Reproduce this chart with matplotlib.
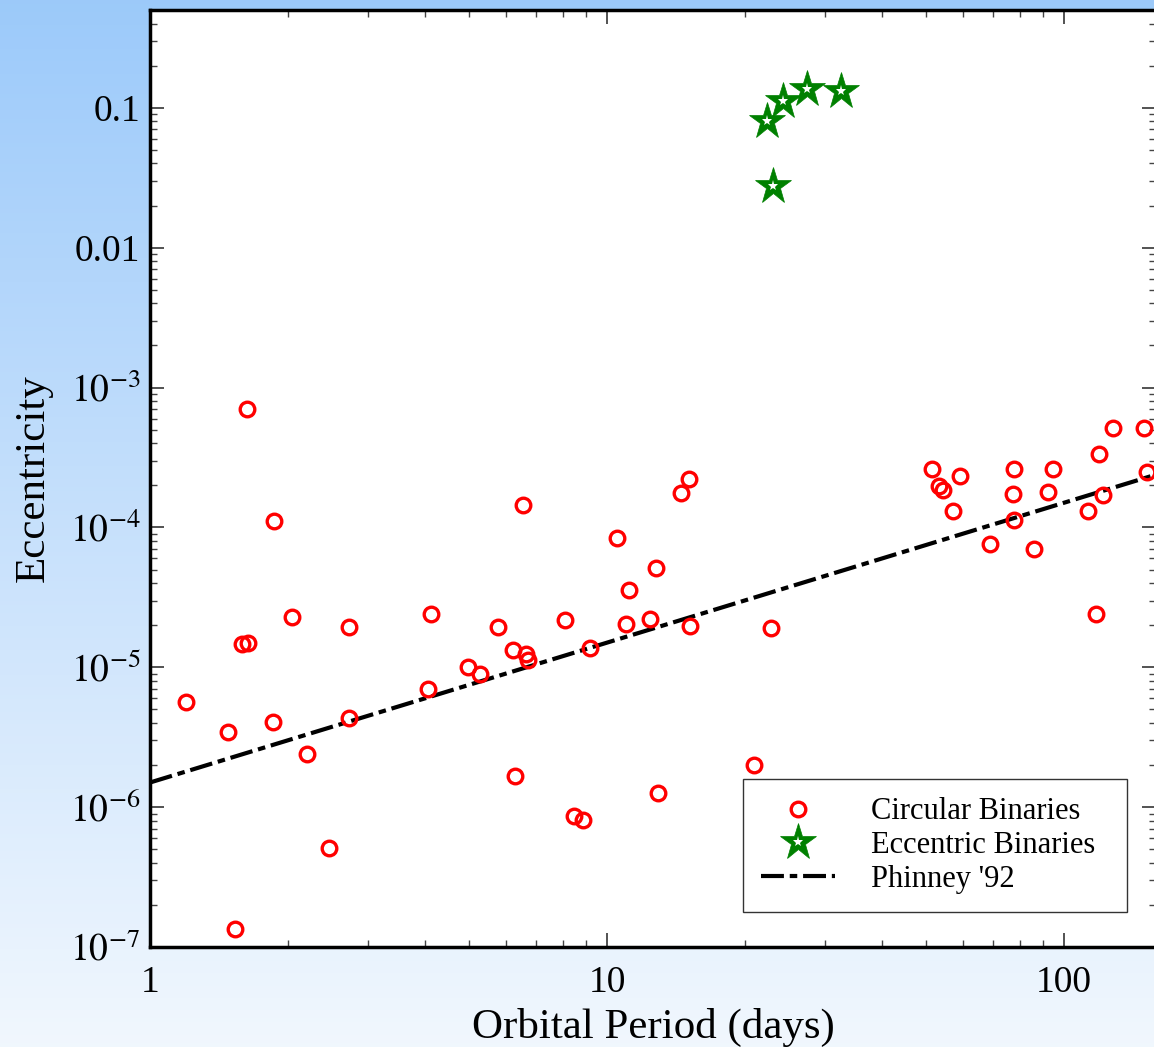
import matplotlib
matplotlib.use("Agg")
import matplotlib.pyplot as plt
import numpy as np
from matplotlib.ticker import FixedLocator, FuncFormatter, LogLocator, NullFormatter

plt.rcParams['font.family'] = ['Liberation Serif', 'DejaVu Serif']
plt.rcParams['mathtext.fontset'] = 'stix'

# circular binaries: orbital period (days), eccentricity
circ_p = [1.20, 1.48, 1.535, 1.59, 1.64, 1.63, 1.87, 2.04, 2.73, 4.11,
          6.56, 5.78, 6.24, 6.66, 6.73, 4.97, 5.28, 8.11, 1.86, 2.21,
          2.47, 2.73, 4.06, 6.30, 8.49, 8.84, 9.20, 10.5, 11.2, 11.0,
          12.45, 12.8, 12.96, 14.5, 15.1, 15.2, 21.0, 22.9, 51.4, 53.4,
          54.4, 59.3, 57.1, 68.9, 77.6, 77.5, 77.8, 86.1, 94.6, 92.3,
          112.7, 117.5, 119.5, 121.6, 128.2, 149.7, 151.7]
circ_e = [5.66e-6, 3.45e-6, 1.35e-7, 1.47e-5, 1.50e-5, 7.0e-4, 1.11e-4, 2.28e-5, 1.95e-5, 2.41e-5,
          1.44e-4, 1.95e-5, 1.33e-5, 1.25e-5, 1.12e-5, 1.01e-5, 8.97e-6, 2.18e-5, 4.07e-6, 2.40e-6,
          5.1e-7, 4.35e-6, 7.0e-6, 1.67e-6, 8.65e-7, 8.1e-7, 1.38e-5, 8.43e-5, 3.58e-5, 2.04e-5,
          2.22e-5, 5.14e-5, 1.26e-6, 1.77e-4, 2.23e-4, 1.98e-5, 2.0e-6, 1.91e-5, 2.61e-4, 1.98e-4,
          1.84e-4, 2.34e-4, 1.31e-4, 7.64e-5, 2.61e-4, 1.72e-4, 1.13e-4, 7.03e-5, 2.60e-4, 1.80e-4,
          1.30e-4, 2.42e-5, 3.36e-4, 1.71e-4, 5.13e-4, 5.13e-4, 2.51e-4]

# eccentric binaries
ecc_p = [22.4, 24.3, 27.4, 32.5, 23.1]
ecc_e = [0.081, 0.111, 0.137, 0.131, 0.0275]

# Phinney '92 relation end points
phin_p = [1.0, 160.0]
phin_e = [1.5e-6, 2.4e-4]

fig = plt.figure(figsize=(11.54, 10.47), dpi=100)

# gradient background
bg = fig.add_axes([0, 0, 1, 1], zorder=0)
top = np.array([0.612, 0.792, 0.980])
bot = np.array([0.945, 0.969, 0.996])
t = np.linspace(0, 1, 256)[:, None]
grad = top[None, :] * (1 - t) + bot[None, :] * t
bg.imshow(grad[:, None, :].repeat(4, axis=1), aspect='auto', extent=[0, 1, 0, 1])
bg.axis('off')

ax = fig.add_axes([0.13, 0.0955, 0.8717, 0.8949], zorder=1)
ax.set_xscale('log')
ax.set_yscale('log')

ln, = ax.plot(phin_p, phin_e, color='black', lw=3, dashes=(5.5, 1.4, 1.8, 1.4), zorder=2)
circ, = ax.plot(circ_p, circ_e, 'o', ms=10.5, mfc='none', mec='red', mew=2.4, zorder=3)
star_out, = ax.plot(ecc_p, ecc_e, '*', ms=28, color='green', mec='green', mew=0.5, zorder=4)
star_in, = ax.plot(ecc_p, ecc_e, '*', ms=8, color='white', mec='white', mew=0, zorder=5)

ax.set_xlim(1, 159)
ax.set_ylim(1e-7, 0.5)

ax.xaxis.set_major_locator(FixedLocator([1, 10, 100]))
ax.xaxis.set_major_formatter(FuncFormatter(lambda v, p: '%d' % v))
ax.xaxis.set_minor_locator(LogLocator(base=10, subs=np.arange(2, 10)))
ax.xaxis.set_minor_formatter(NullFormatter())

def yfmt(v, p):
    if v >= 0.1:
        return '0.1'
    if v >= 0.01:
        return '0.01'
    return r'$10^{%d}$' % int(round(np.log10(v)))

ax.yaxis.set_major_locator(FixedLocator([1e-7, 1e-6, 1e-5, 1e-4, 1e-3, 1e-2, 1e-1]))
ax.yaxis.set_major_formatter(FuncFormatter(yfmt))
ax.yaxis.set_minor_locator(LogLocator(base=10, subs=np.arange(2, 10)))
ax.yaxis.set_minor_formatter(NullFormatter())

ax.tick_params(which='both', direction='in', top=True, right=True, color='#444444')
ax.tick_params(which='major', length=10, width=1.3, labelsize=27, pad=7)
ax.tick_params(axis='x', which='major', pad=13)
ax.tick_params(which='minor', length=5, width=1.0)
for s in ax.spines.values():
    s.set_linewidth(2.5)

ax.set_xlabel('Orbital Period (days)', fontsize=31, labelpad=6)
ax.set_ylabel('Eccentricity', fontsize=31, labelpad=12)

leg = ax.legend([circ, (star_out, star_in), ln],
                ['Circular Binaries', 'Eccentric Binaries', "Phinney '92"],
                loc='lower left', mode='expand',
                bbox_to_anchor=(0.5895, 0.037, 0.3817, 0.142), borderaxespad=0, fontsize=22,
                fancybox=False, edgecolor='#333333', framealpha=1,
                handlelength=2.4, handletextpad=1.2, labelspacing=0.16,
                borderpad=0.6, numpoints=1)
leg.get_frame().set_linewidth(1.0)

fig.savefig('out.png', dpi=100)
